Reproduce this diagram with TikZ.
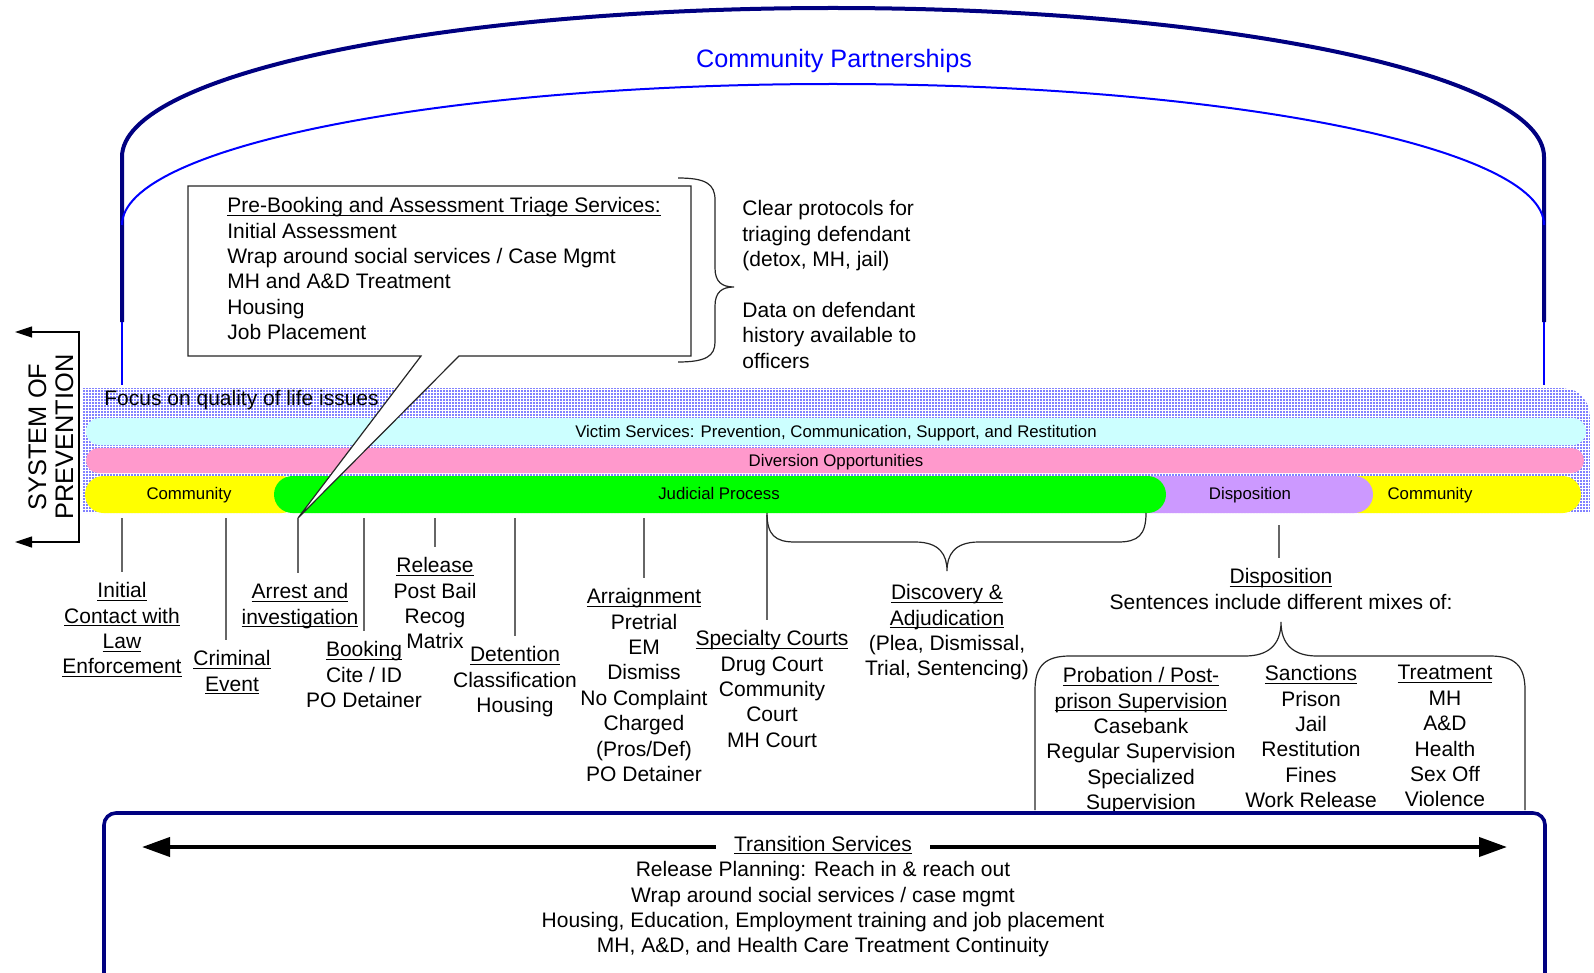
\documentclass[tikz,border=0pt]{standalone}
\usepackage{fontspec}
\setmainfont{Liberation Sans}
\usetikzlibrary{arrows.meta, patterns.meta}
\definecolor{cjnavy}{HTML}{000080}
\definecolor{cjblue}{HTML}{0000FF}
\definecolor{cjcyan}{HTML}{CCFFFF}
\definecolor{cjpink}{HTML}{FF99CC}
\definecolor{cjyellow}{HTML}{FFFF00}
\definecolor{cjgreen}{HTML}{00FF00}
\definecolor{cjlilac}{HTML}{CC99FF}
\definecolor{cjtick}{HTML}{666666}
\tikzdeclarepattern{
  name=fine dots, type=uncolored,
  bounding box={(-0.75pt,-0.75pt) and (0.75pt,0.75pt)},
  tile size={(1.5pt,1.5pt)},
  code={\pgfpathcircle{\pgfpointorigin}{0.42pt}\pgfusepath{fill}}
}
% underline just under the baseline, through the descenders
\newsavebox{\ulbox}
\newcommand{\undl}[1]{\sbox{\ulbox}{#1}\rlap{\rule[-1.6pt]{\wd\ulbox}{0.55pt}}\usebox{\ulbox}}
\tikzset{
  txt/.style={inner sep=0pt, font=\fontsize{10.5}{12.7}\selectfont},
  lbl/.style={txt, align=center, anchor=north},
  barlbl/.style={anchor=base, inner sep=0pt, font=\fontsize{8.4}{10}\selectfont},
  tick/.style={draw=cjtick, line width=0.6pt, shorten >=5pt},
  brace/.style={draw=black!85, line width=0.6pt},
}

\begin{document}
\begin{tikzpicture}[x=0.5pt, y=-0.5pt]
  \useasboundingbox (0,0) rectangle (1594,973);
  \def\rowT{476}\def\rowB{513}
  % Community partnerships
  \draw[cjnavy, line width=2pt] (122,322) -- (122,157)
    arc[start angle=180, end angle=0, x radius=355.5pt, y radius=74.5pt] -- (1544,322);
  \draw[cjblue, line width=1pt] (122,225)
    arc[start angle=180, end angle=0, x radius=355.5pt, y radius=70.5pt];
  \draw[cjblue, line width=0.75pt] (122,322) -- (122,385) (1544,322) -- (1544,385);
  \node[anchor=base, inner sep=0pt, text=cjblue, font=\fontsize{12.6}{15}\selectfont] (partners) at (834,68) {Community Partnerships};

  % System of prevention
  \node[rotate=90, align=center, inner sep=0pt, font=\fontsize{12.7}{13.5}\selectfont] (sysprev) at (51,437) {SYSTEM OF\\PREVENTION};
  \coordinate (spT) at (79,332); \coordinate (spB) at (79,542);
  \coordinate (spTa) at (15,332); \coordinate (spBa) at (15,542);
  \draw[line width=0.6pt, {Triangle[length=8.5pt,width=5.5pt]}-{Triangle[length=8.5pt,width=5.5pt]}] (spTa) -- (spT) -- (spB) -- (spBa);

  % Bands
  \fill[pattern=fine dots, pattern color=cjblue] (82,\rowB) -- (82,388) -- (1560,388)
    .. controls (1580,388) and (1590,400) .. (1590,420) -- (1590,\rowB) -- cycle;
  \fill[cjcyan, rounded corners=6.75pt] (86,418) rectangle (1586,445);
  \fill[cjpink, rounded corners=6.25pt] (86,448) rectangle (1584,473);
  \fill[cjyellow, rounded corners=9.25pt] (1340,\rowT) rectangle (1581,\rowB);
  \fill[cjlilac, rounded corners=9.25pt] (1125,\rowT) rectangle (1373,\rowB);
  \fill[cjyellow, rounded corners=9.25pt] (85,\rowT) rectangle (300,\rowB);
  \fill[cjgreen, rounded corners=9.25pt] (274,\rowT) rectangle (1166,\rowB);
  \node[txt, anchor=base west] (focus) at (104,405) {Focus on quality of life issues};
  \node[barlbl] (victim) at (836,437) {Victim Services: Prevention, Communication, Support, and Restitution};
  \node[barlbl] (diversion) at (836,466) {Diversion Opportunities};
  \node[barlbl] (commL) at (189,499) {Community};
  \node[barlbl] (judicial) at (719,499) {Judicial Process};
  \node[barlbl] (dispbar) at (1250,499) {Disposition};
  \node[barlbl] (commR) at (1430,499) {Community};

  % Triage callout
  \filldraw[fill=white, draw=black!85, line width=0.6pt] (188,186) -- (691,186) -- (691,356) -- (459,356)
    -- (298,518) -- (421,356) -- (188,356) -- cycle;
  \node[txt, anchor=north west, align=left] (triage) at (227,197) {\undl{Pre-Booking and Assessment Triage Services:}\\
    Initial Assessment\\ Wrap around social services / Case Mgmt\\ MH and A\&D Treatment\\ Housing\\ Job Placement};
  \draw[brace] (678,178) .. controls (706,178) and (715,184) .. (715,200) -- (715,268)
    .. controls (715,282) and (722,287) .. (734,287) .. controls (722,287) and (715,292) .. (715,306)
    -- (715,342) .. controls (715,356) and (706,362) .. (678,362);
  \node[txt, anchor=north west, align=left] (protocols) at (742,200) {Clear protocols for\\ triaging defendant\\ (detox, MH, jail)\\[12.7pt]
    Data on defendant\\ history available to\\ officers};

  % Process steps
  \node[lbl] (initial) at (122,582) {\undl{Initial}\\ \undl{Contact with}\\ \undl{Law}\\ \undl{Enforcement}};
  \node[lbl] (criminal) at (232,650) {\undl{Criminal}\\ \undl{Event}};
  \node[lbl] (arrest) at (300,583) {\undl{Arrest and}\\ \undl{investigation}};
  \node[lbl] (booking) at (364,641) {\undl{Booking}\\ Cite / ID\\ PO Detainer};
  \node[lbl] (release) at (435,557) {\undl{Release}\\ Post Bail\\ Recog\\ Matrix};
  \node[lbl] (detention) at (515,646) {\undl{Detention}\\ Classification\\ Housing};
  \node[lbl] (arraign) at (644,588) {\undl{Arraignment}\\ Pretrial\\ EM\\ Dismiss\\ No Complaint\\ Charged\\ (Pros/Def)\\ PO Detainer};
  \node[lbl] (specialty) at (772,630) {\undl{Specialty Courts}\\ Drug Court\\ Community\\ Court\\ MH Court};
  \node[lbl] (discovery) at (947,584) {\undl{Discovery \&}\\ \undl{Adjudication}\\ (Plea, Dismissal,\\ Trial, Sentencing)};
  \node[lbl] (disposition) at (1281,568) {\undl{Disposition}\\ Sentences include different mixes of:};
  \node[lbl] (probation) at (1141,667) {\undl{Probation / Post-}\\ \undl{prison Supervision}\\ Casebank\\ Regular Supervision\\ Specialized\\ Supervision};
  \node[lbl] (sanctions) at (1311,665) {\undl{Sanctions}\\ Prison\\ Jail\\ Restitution\\ Fines\\ Work Release};
  \node[lbl] (treatment) at (1445,665) {\undl{Treatment}\\ MH\\ A\&D\\ Health\\ Sex Off\\ Violence};

  \coordinate (tInitial) at (122,518);
  \coordinate (tCriminal) at (226,518);
  \coordinate (tArrest) at (298,518);
  \coordinate (tBooking) at (364,518);
  \coordinate (tRelease) at (435,518);
  \coordinate (tDetention) at (515,518);
  \coordinate (tArraign) at (644,518);
  \coordinate (tSpecialty) at (767,515);
  \coordinate (tDisposition) at (1279,525);
  \draw[tick] (tInitial) -- (tInitial |- initial.north);
  \draw[tick] (tCriminal) -- (tCriminal |- criminal.north);
  \draw[tick] (tArrest) -- (tArrest |- arrest.north);
  \draw[tick] (tBooking) -- (tBooking |- booking.north);
  \draw[tick] (tRelease) -- (tRelease |- release.north);
  \draw[tick] (tDetention) -- (tDetention |- detention.north);
  \draw[tick] (tArraign) -- (tArraign |- arraign.north);
  \draw[tick] (tSpecialty) -- (tSpecialty |- specialty.north);
  \draw[tick] (tDisposition) -- (tDisposition |- disposition.north);

  % Braces
  \draw[brace] (767,513) .. controls (767,535) and (775,542) .. (795,542) -- (915,542)
    .. controls (940,542) and (947,555) .. (947,571) .. controls (947,555) and (954,542) .. (979,542)
    -- (1118,542) .. controls (1138,542) and (1146,535) .. (1146,513);
  \draw[brace] (1035,810) -- (1035,690) .. controls (1035,666) and (1045,656) .. (1070,656) -- (1245,656)
    .. controls (1268,656) and (1281,645) .. (1281,622) .. controls (1281,645) and (1294,656) .. (1317,656)
    -- (1490,656) .. controls (1515,656) and (1525,666) .. (1525,690) -- (1525,810);

  % Transition services
  \begin{scope}
    \clip (0,0) rectangle (1594,973);
    \draw[cjnavy, line width=1.8pt, rounded corners=6pt] (104,813) rectangle (1545,985);
  \end{scope}
  \node[txt, anchor=base, inner xsep=9pt] (transition) at (823,851) {\undl{Transition Services}};
  \coordinate (trL) at (142,847); \coordinate (trR) at (1507,847);
  \draw[line width=2pt, -{Triangle[length=14pt,width=9.5pt]}] (transition.west |- trL) -- (trL);
  \draw[line width=2pt, -{Triangle[length=14pt,width=9.5pt]}] (transition.east |- trR) -- (trR);
  \node[lbl] (transbody) at (823,861) {Release Planning: Reach in \& reach out\\ Wrap around social services / case mgmt\\
    Housing, Education, Employment training and job placement\\ MH, A\&D, and Health Care Treatment Continuity};
\end{tikzpicture}
\end{document}
